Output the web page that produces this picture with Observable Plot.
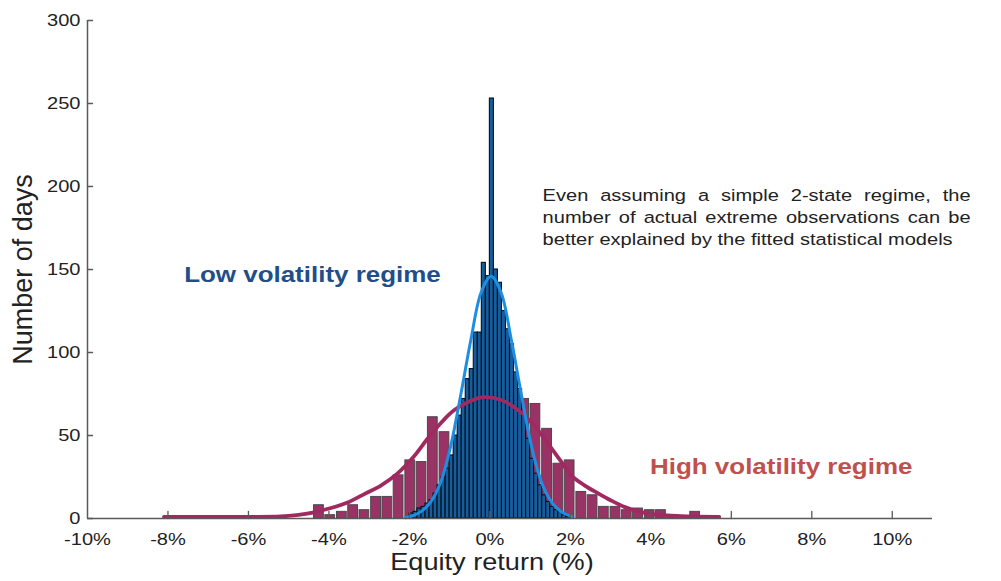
<!DOCTYPE html>
<html>
<head>
<meta charset="utf-8">
<script src="https://cdn.jsdelivr.net/npm/d3@7"></script>
<script src="https://cdn.jsdelivr.net/npm/@observablehq/plot@0.6"></script>
<style>
  html, body { margin: 0; padding: 0; background: #fff; }
</style>
</head>
<body>
<div id="chart"></div>
<script>
// ---------- data ----------
const xTicks = [-10, -8, -6, -4, -2, 0, 2, 4, 6, 8, 10];
const yTicks = [0, 50, 100, 150, 200, 250, 300];

// High volatility regime histogram: bin start (%) and counts
const highBinStart = [-4.39, -4.11, -3.82, -3.54, -3.26, -2.97, -2.69, -2.41, -2.12, -1.84,
  -1.56, -1.27, -0.99, -0.71, -0.42, -0.14, 0.14, 0.43, 0.71, 0.99,
  1.28, 1.56, 1.84, 2.13, 2.41, 2.69, 2.98, 3.26, 3.54, 3.83,
  4.11, 4.39, 4.68, 4.96];
const highCounts = [8, 2, 4, 8, 5, 13, 13, 26, 35, 34,
  61, 52, 36, 48, 66, 70, 72, 66, 72, 69,
  54, 33, 35, 16, 14, 7, 7, 5, 6, 5,
  5, 2, 1, 4];
const highBinWidth = 0.283;

// Low volatility regime histogram: bin start (%) and counts
const lowBinStart = [-2.0, -1.9, -1.8, -1.7, -1.6, -1.5, -1.4, -1.3, -1.2, -1.1,
  -1.0, -0.9, -0.8, -0.7, -0.6, -0.5, -0.4, -0.3, -0.2, -0.1,
  0.0, 0.1, 0.2, 0.3, 0.4, 0.5, 0.6, 0.7, 0.8, 0.9,
  1.0, 1.1, 1.2, 1.3, 1.4, 1.5, 1.6, 1.7, 1.8, 1.9];
const lowCounts = [3, 4, 6, 7, 9, 11, 15, 20, 25, 30,
  38, 50, 62, 72, 84, 90, 112, 112, 154, 146,
  253, 150, 142, 125, 114, 105, 88, 78, 64, 48,
  36, 27, 20, 14, 10, 7, 5, 4, 2, 1];
const lowBinWidth = 0.1;

// Fitted curves
const highFitX = [-8.1, -7, -6, -5.2, -4.8, -4.4, -4.0, -3.5, -3.1, -2.7, -2.3, -1.9, -1.55, -1.2, -0.9, -0.55, -0.2, 0.27, 0.77, 1.1, 1.45, 1.75, 2.02, 2.35, 2.7, 3.0, 3.34, 3.65, 3.94, 4.4, 4.9, 5.7];
const highFitY = [1, 1, 1, 1.2, 2, 3.5, 6, 10, 15, 20, 27, 37, 48, 58, 65, 70, 73, 71.5, 64, 56, 45, 35, 26, 20, 15, 11, 7, 4.5, 3, 1.8, 1.2, 1];
const lowFitX = [-2.1, -1.97, -1.72, -1.47, -1.22, -0.97, -0.72, -0.47, -0.22, 0.03, 0.28, 0.53, 0.78, 1.03, 1.28, 1.53, 1.78, 2.03];
const lowFitY = [0.5, 1.2, 4, 10, 22, 44, 75, 108, 136, 146, 136, 108, 75, 44, 22, 10, 4, 1.2];

const labels = {
  x: "Equity return (%)",
  y: "Number of days",
  low: "Low volatility regime",
  high: "High volatility regime",
  note: "Even assuming a simple 2-state regime, the\nnumber of actual extreme observations can be\nbetter explained by the fitted statistical models"
};

// ---------- build tables ----------
const high = highBinStart.map((s, i) => ({x1: s, x2: s + highBinWidth, y: highCounts[i]}));
const low = lowBinStart.map((s, i) => ({x1: s, x2: s + lowBinWidth, y: lowCounts[i]}));
const highFit = highFitX.map((x, i) => ({x, y: highFitY[i]}));
const lowFit = lowFitX.map((x, i) => ({x, y: lowFitY[i]}));

const axisColor = "#5a5a5a";
const tickShape = {draw(context, l) { context.moveTo(0, 0); context.lineTo(0, -l); }};
const FONT = "'Liberation Sans', Arial, Helvetica, sans-serif";
const STRETCH = 1.18;

const plot = Plot.plot({
  width: 1001,
  height: 581,
  marginLeft: 87,
  marginRight: 69,
  marginTop: 20,
  marginBottom: 63,
  x: {domain: [-10, 11]},
  y: {domain: [0, 300]},
  style: {fontFamily: FONT, background: "#fff", color: "#222"},
  marks: [
    Plot.rectY(high, {x1: "x1", x2: "x2", y: "y", fill: "#993366", stroke: "#4a4a4a", strokeWidth: 1, insetLeft: 0.8, insetRight: 0.8}),
    Plot.rectY(low, {x1: "x1", x2: "x2", y: "y", fill: "#175c9c", stroke: "#061018", strokeWidth: 1.1}),
    Plot.line(highFit, {x: "x", y: "y", curve: "catmull-rom", stroke: "#a02a5f", strokeWidth: 3.8}),
    Plot.line(lowFit, {x: "x", y: "y", curve: "catmull-rom", stroke: "#1e8fe0", strokeWidth: 3}),
    Plot.ruleX([-10], {y1: 0, y2: 300, stroke: axisColor, strokeWidth: 1.5}),
    Plot.ruleY([0], {x1: -10, x2: 11, stroke: axisColor, strokeWidth: 1.5}),
    Plot.vector(yTicks, {x: -10, y: d => d, length: 5, rotate: 90, anchor: "start", shape: tickShape, stroke: axisColor, strokeWidth: 1.3}),
    Plot.vector(xTicks.filter(d => d > -10), {x: d => d, y: 0, length: 7, rotate: 0, anchor: "start", shape: tickShape, stroke: axisColor, strokeWidth: 1.3}),
    Plot.axisY({ticks: yTicks, tickSize: 0, tickPadding: 7, fontSize: 17, label: null, fill: "#222"}),
    Plot.axisX({ticks: xTicks, tickFormat: d => d + "%", tickSize: 0, tickPadding: 14, fontSize: 17, label: null, fill: "#222"}),
    Plot.text([labels.y], {frameAnchor: "left", rotate: -90, textAnchor: "middle", dx: -64, fontSize: 27, fill: "#222"}),
    Plot.text([labels.x], {frameAnchor: "bottom", dx: -18, dy: 51, fontSize: 23, fill: "#222"}),
    Plot.text([labels.low], {x: -4.41, y: 147, fontSize: 22, fontWeight: "bold", fill: "#1f4e8a"}),
    Plot.text([labels.high], {x: 7.24, y: 31.3, fontSize: 22, fontWeight: "bold", fill: "#c0504d"}),
    Plot.text([labels.note], {x: 1.31, y: 200.5, textAnchor: "start", lineAnchor: "top", lineHeight: 1.294, fontSize: 17, fill: "#222", className: "note"})
  ]
});

document.getElementById("chart").appendChild(plot);

// Reference text is horizontally wide: stretch non-rotated text
d3.select(plot).selectAll("text").each(function () {
  const t = this.getAttribute("transform") || "";
  if (!/rotate/.test(t)) this.setAttribute("transform", (t + ` scale(${STRETCH},1)`).trim());
});
// justify the first two lines of the note by word spacing
const justifyWidth = 428 / STRETCH;
d3.select(plot).selectAll(".note tspan").each(function (d, i) {
  if (i < 2) {
    const len = this.getComputedTextLength();
    const spaces = (this.textContent.match(/ /g) || []).length;
    if (spaces > 0 && len < justifyWidth) this.style.wordSpacing = ((justifyWidth - len) / spaces) + "px";
  }
});
</script>
</body>
</html>
